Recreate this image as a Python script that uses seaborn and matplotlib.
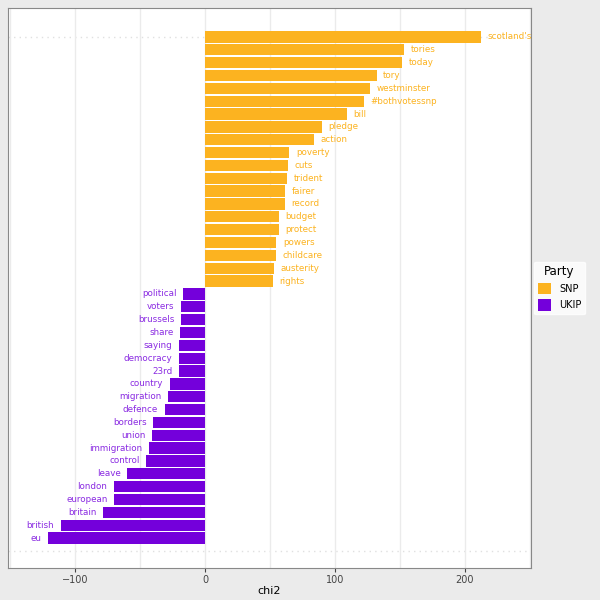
import matplotlib
matplotlib.use("Agg")
import matplotlib.pyplot as plt
import seaborn as sns
import pandas as pd

snp_words = ["scotland's","tories","today","tory","westminster","#bothvotessnp","bill","pledge","action",
             "poverty","cuts","trident","fairer","record","budget","protect","powers","childcare","austerity","rights"]
snp_vals = [212,153,151.5,132,127,122,109,90,84,65,64,63,61.5,61.5,57,57,55,55,53,52]
ukip_words = ["political","voters","brussels","share","saying","democracy","23rd","country","migration","defence",
              "borders","union","immigration","control","leave","london","european","britain","british","eu"]
ukip_vals = [-17,-18.5,-18.5,-19,-20,-20,-20,-27,-28.5,-31,-40,-41,-43,-45,-60,-70,-70,-78.5,-111,-121]

df = pd.DataFrame({"word": snp_words + ukip_words, "chi2": snp_vals + ukip_vals,
                   "Party": ["SNP"]*len(snp_words) + ["UKIP"]*len(ukip_words)})
pal = {"SNP": "#FCB320", "UKIP": "#7400DB"}

fig = plt.figure(figsize=(6, 6), dpi=100, facecolor="#EBEBEB")
ax = fig.add_axes([8/600, 32/600, 523/600, 560/600])
ax.set_facecolor("white")
sns.barplot(data=df, y="word", x="chi2", hue="Party", palette=pal, dodge=False, saturation=1,
            orient="h", width=0.88, ax=ax, legend=True, zorder=3)
ax.set_xlim(-151.5, 250.8)
ax.set_ylim(41.33, -2.25)
ax.set_xticks([-100, 0, 100, 200])
ax.set_xticks([-150, -50, 50, 150, 250], minor=True)
ax.grid(axis="x", which="both", color="#EBEBEB", lw=1, zorder=0)
ax.set_axisbelow(True)
for y in [0, 40]:
    ax.axhline(y, color="#E0E0E0", lw=1, ls=(0, (1, 3)), zorder=0)
ax.set_yticks([])
ax.set_ylabel("")
ax.set_xlabel("chi2", fontsize=8, labelpad=1)
ax.tick_params(axis="x", which="major", labelsize=7, colors="#444444", length=3, pad=2)
ax.tick_params(axis="x", which="minor", length=0)
for s in ax.spines.values():
    s.set_color("#888888")
for i, row in df.iterrows():
    if row.Party == "SNP":
        ax.text(row.chi2 + 5, i, row.word, va="center", ha="left", fontsize=6.3, color="#FCB320", zorder=4)
    else:
        ax.text(row.chi2 - 5, i, row.word, va="center", ha="right", fontsize=6.3, color="#8A2BE2", zorder=4)
h, l = ax.get_legend_handles_labels()
ax.legend(h, l, title="Party", loc="center left", bbox_to_anchor=(1.005, 0.5), fontsize=7,
          title_fontsize=8.5, frameon=True, facecolor="white", edgecolor="white",
          handlelength=1.4, handleheight=1.4, borderaxespad=0)
fig.savefig("out.png", dpi=100, facecolor=fig.get_facecolor())
